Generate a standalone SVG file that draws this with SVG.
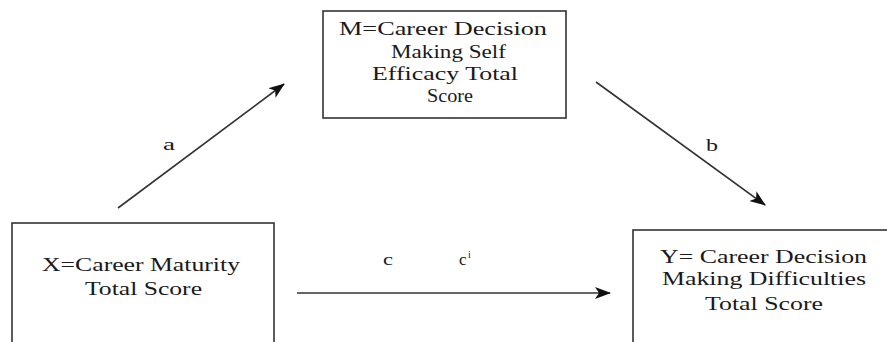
<svg xmlns="http://www.w3.org/2000/svg" width="887" height="342" viewBox="0 0 887 342">
<defs>
<style>
.box{fill:#fff;stroke:#333;stroke-width:1.6}
.t{font-size:19px;fill:#1a1a1a}
.lbl{font-size:17px;fill:#1a1a1a}
.edge{stroke:#333;stroke-width:1.6;fill:none}
</style>
<marker id="ah" markerUnits="userSpaceOnUse" markerWidth="16" markerHeight="12" refX="15" refY="6" orient="auto">
<path d="M0,0 L16,6 L0,12 L4,6 Z" fill="#111"/>
</marker>
</defs>
<rect width="887" height="342" fill="#fff"/>
<g font-family="Liberation Serif, DejaVu Serif, serif">
<g id="node-M">
<rect class="box" x="323" y="11" width="243" height="107"/>
<text class="t" x="339" y="35" textLength="208" lengthAdjust="spacingAndGlyphs">M=Career Decision</text>
<text class="t" x="391" y="58" textLength="115" lengthAdjust="spacingAndGlyphs">Making Self</text>
<text class="t" x="372" y="80" textLength="146" lengthAdjust="spacingAndGlyphs">Efficacy Total</text>
<text class="t" x="427" y="102" textLength="46" lengthAdjust="spacingAndGlyphs">Score</text>
</g>
<g id="node-X">
<rect class="box" x="12" y="223" width="262" height="130"/>
<text class="t" x="42" y="271" textLength="198" lengthAdjust="spacingAndGlyphs">X=Career Maturity</text>
<text class="t" x="85" y="295" textLength="117" lengthAdjust="spacingAndGlyphs">Total Score</text>
</g>
<g id="node-Y">
<rect class="box" x="633" y="230" width="270" height="130"/>
<text class="t" x="660" y="263" textLength="207" lengthAdjust="spacingAndGlyphs">Y= Career Decision</text>
<text class="t" x="662" y="285" textLength="204" lengthAdjust="spacingAndGlyphs">Making Difficulties</text>
<text class="t" x="705" y="310" textLength="118" lengthAdjust="spacingAndGlyphs">Total Score</text>
</g>
<g id="connectors">
<line class="edge" x1="118" y1="208" x2="284" y2="84" marker-end="url(#ah)"/>
<line class="edge" x1="596" y1="82" x2="765" y2="205" marker-end="url(#ah)"/>
<line class="edge" x1="297" y1="293" x2="610" y2="293" marker-end="url(#ah)"/>
<text class="lbl" x="163" y="150" textLength="12" lengthAdjust="spacingAndGlyphs">a</text>
<text class="lbl" x="706" y="151" textLength="12" lengthAdjust="spacingAndGlyphs">b</text>
<text class="lbl" x="383" y="265" textLength="10" lengthAdjust="spacingAndGlyphs">c</text>
<text class="lbl" x="459" y="265">c<tspan x="468" y="258" font-size="10">i</tspan></text>
</g>
</g>
</svg>
